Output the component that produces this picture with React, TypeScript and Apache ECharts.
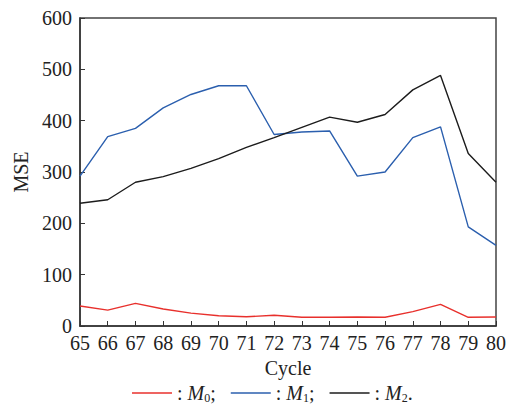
import React, { useEffect, useRef } from "react";
import * as echarts from "echarts";

const cycles = [65, 66, 67, 68, 69, 70, 71, 72, 73, 74, 75, 76, 77, 78, 79, 80];
const m0 = [39, 31, 44, 33, 25, 20, 18, 21, 17, 17, 17.5, 17, 28, 42, 17, 17.5];
const m1 = [292, 369, 385, 425, 451, 468, 468, 373, 378, 380, 292, 300, 367, 388, 193, 157];
const m2 = [239, 246, 280, 291, 307, 326, 348, 367, 387, 407, 397, 412, 460, 488, 336, 280];
const seriesNames = ["M0", "M1", "M2"];
const seriesColors = ["#e8302c", "#2b5fae", "#1c1c1c"];
const legendSub = ["0", "1", "2"];
const legendEnd = [";", ";", "."];

const FONT = "'Liberation Serif', 'Times New Roman', serif";

export default function App() {
  const ref = useRef<HTMLDivElement>(null);
  useEffect(() => {
    if (!ref.current) return;
    const chart = echarts.init(ref.current, undefined, { renderer: "svg" });
    const data = [m0, m1, m2];
    chart.setOption({
      animation: false,
      textStyle: { fontFamily: FONT },
      grid: {
        left: 80,
        right: 17,
        top: 18,
        bottom: 78,
        show: true,
        borderColor: "#444",
        borderWidth: 1.5,
      },
      legend: {
        top: 382,
        left: 132,
        padding: 0,
        icon: "rect",
        itemWidth: 40,
        itemHeight: 1.4,
        itemGap: 15,
        data: seriesNames,
        formatter: (name: string) => {
          const i = seriesNames.indexOf(name);
          return `{a|: }{m|M}{s|${legendSub[i]}}{a|${legendEnd[i]}}`;
        },
        textStyle: {
          fontFamily: FONT,
          color: "#222",
          lineHeight: 20,
          rich: {
            a: { fontSize: 20, lineHeight: 20, fontFamily: FONT, color: "#222" },
            m: { fontSize: 20, lineHeight: 20, fontFamily: FONT, fontStyle: "italic", color: "#222" },
            s: { fontSize: 12, lineHeight: 12, fontFamily: FONT, color: "#222", padding: [10, 0, 0, 0] },
          },
        },
      },
      xAxis: {
        type: "value",
        min: 65,
        max: 80,
        interval: 1,
        name: "Cycle",
        nameLocation: "middle",
        nameGap: 32,
        nameTextStyle: { fontSize: 20, color: "#222", fontFamily: FONT },
        axisLine: { lineStyle: { color: "#333", width: 1.5 } },
        axisTick: { inside: true, length: 5, lineStyle: { color: "#333" } },
        axisLabel: { fontSize: 20, color: "#222", margin: 7, fontFamily: FONT },
        splitLine: { show: false },
      },
      yAxis: {
        type: "value",
        min: 0,
        max: 600,
        interval: 100,
        name: "MSE",
        nameLocation: "middle",
        nameGap: 46,
        nameTextStyle: { fontSize: 20, color: "#222", fontFamily: FONT },
        axisLine: { show: true, lineStyle: { color: "#333", width: 1.5 } },
        axisTick: { show: true, inside: true, length: 5, lineStyle: { color: "#333" } },
        axisLabel: { fontSize: 20, color: "#222", margin: 8, fontFamily: FONT },
        splitLine: { show: false },
      },
      series: seriesNames.map((n, i) => ({
        name: n,
        type: "line",
        showSymbol: false,
        symbol: "none",
        color: seriesColors[i],
        lineStyle: { width: 1.4, color: seriesColors[i] },
        data: cycles.map((c, j) => [c, data[i][j]]),
      })),
    });
    return () => chart.dispose();
  }, []);
  return <div ref={ref} style={{ width: 513, height: 404, position: "absolute", left: 0, top: 0 }} />;
}
